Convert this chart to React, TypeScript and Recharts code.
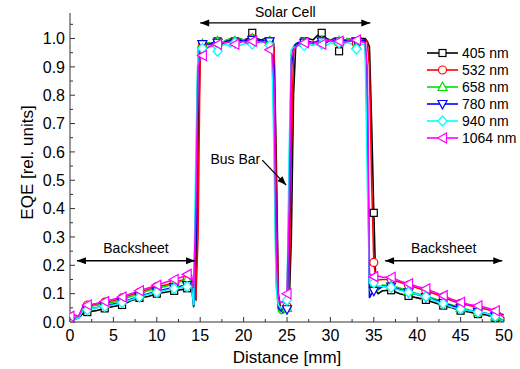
import { LineChart, Line, XAxis, YAxis, ReferenceLine, Legend, Label } from "recharts";

// distance along the scan [mm]
const DIST = [
  0, 0.5, 1, 1.5, 2, 3, 4, 5, 6, 7, 8, 9, 10, 11, 12, 13, 13.5, 14,
  14.25, 14.5, 14.75, 15, 15.25, 15.5,
  16, 16.5, 17, 17.5, 18, 18.5, 19, 19.5, 20, 20.5, 21, 21.5, 22, 22.5, 23,
  23.25, 23.5, 23.75, 24, 24.25, 24.5, 24.75, 25, 25.25, 25.5, 25.75, 26, 26.25, 26.5,
  27, 27.5, 28, 28.5, 29, 29.5, 30, 30.5, 31, 31.5, 32, 32.5, 33, 33.5, 34,
  34.25, 34.5, 34.75, 35, 35.25, 35.5,
  36, 37, 38, 39, 40, 41, 42, 43, 44, 45, 46, 47, 48, 49, 50,
];

const EQE_405 = [
  0.0, 0.01, 0.015, 0.03, 0.035, 0.04, 0.048, 0.055, 0.06, 0.075, 0.085, 0.09, 0.1, 0.105, 0.11, 0.115, 0.119, 0.115,
  0.09, 0.08, 0.6, 0.97, 0.98, 0.98,
  0.98, 0.985, 0.99, 0.985, 0.99, 0.995, 0.99, 1.0, 0.995, 1.0, 1.02, 1.0, 0.995, 1.0, 0.99,
  0.99, 0.98, 0.6, 0.1, 0.05, 0.04, 0.04, 0.05, 0.06, 0.3, 0.8, 0.97, 0.98, 0.985,
  0.99, 1.0, 0.995, 1.01, 1.02, 1.0, 0.995, 1.0, 0.955, 0.99, 1.0, 0.995, 0.99, 1.0, 1.0,
  0.99, 0.97, 0.7, 0.385, 0.11, 0.1,
  0.11, 0.112, 0.1, 0.092, 0.085, 0.078, 0.068, 0.058, 0.05, 0.04, 0.035, 0.028, 0.025, 0.015, 0.0,
];
const EQE_532 = [
  0.01, 0.015, 0.02, 0.055, 0.06, 0.062, 0.07, 0.075, 0.085, 0.095, 0.105, 0.115, 0.125, 0.13, 0.14, 0.148, 0.15, 0.145,
  0.12, 0.08, 0.3, 0.96, 0.975, 0.98,
  0.975, 0.98, 0.985, 0.98, 0.99, 0.985, 0.99, 0.99, 0.995, 0.99, 1.0, 0.995, 0.99, 0.995, 0.985,
  0.985, 0.975, 0.5, 0.08, 0.05, 0.045, 0.045, 0.055, 0.1, 0.6, 0.95, 0.975, 0.98, 0.985,
  0.98, 0.985, 0.98, 0.99, 0.985, 0.99, 0.995, 0.99, 0.985, 0.99, 0.995, 0.99, 0.985, 0.995, 0.995,
  0.99, 0.9, 0.5, 0.21, 0.15, 0.148,
  0.15, 0.15, 0.14, 0.13, 0.12, 0.11, 0.1, 0.088, 0.075, 0.066, 0.058, 0.05, 0.045, 0.035, 0.025,
];
const EQE_658 = [
  0.01, 0.015, 0.02, 0.05, 0.055, 0.058, 0.065, 0.07, 0.08, 0.09, 0.1, 0.11, 0.12, 0.125, 0.135, 0.145, 0.15, 0.13,
  0.05, 0.45, 0.97, 0.98, 0.98, 0.985,
  0.985, 0.98, 0.99, 0.985, 0.995, 1.0, 0.99, 1.0, 0.995, 0.99, 1.0, 0.995, 0.99, 0.995, 0.99,
  0.98, 0.7, 0.15, 0.04, 0.03, 0.03, 0.035, 0.05, 0.5, 0.95, 0.97, 0.98, 0.985, 0.99,
  0.985, 0.99, 0.98, 0.985, 0.99, 0.995, 0.99, 0.995, 0.99, 0.985, 1.0, 0.99, 0.975, 0.99, 0.99,
  0.7, 0.13, 0.12, 0.125, 0.12, 0.118,
  0.13, 0.128, 0.12, 0.11, 0.1, 0.092, 0.082, 0.07, 0.06, 0.05, 0.042, 0.035, 0.03, 0.02, 0.005,
];
const EQE_780 = [
  0.0, 0.01, 0.015, 0.04, 0.045, 0.05, 0.057, 0.063, 0.07, 0.08, 0.09, 0.1, 0.108, 0.115, 0.122, 0.128, 0.13, 0.128,
  0.055, 0.3, 0.95, 0.975, 0.98, 0.98,
  0.98, 0.985, 0.985, 0.98, 0.99, 0.99, 0.985, 0.995, 0.99, 0.995, 0.995, 0.99, 0.995, 0.99, 0.99,
  0.985, 0.9, 0.3, 0.05, 0.04, 0.035, 0.04, 0.045, 0.3, 0.9, 0.97, 0.98, 0.985, 0.985,
  0.985, 0.99, 0.985, 0.99, 0.99, 0.985, 0.995, 0.99, 0.99, 0.995, 0.99, 0.995, 0.99, 0.99, 0.995,
  0.8, 0.085, 0.1, 0.11, 0.115, 0.115,
  0.125, 0.125, 0.115, 0.105, 0.097, 0.088, 0.078, 0.067, 0.057, 0.048, 0.04, 0.035, 0.03, 0.02, 0.0,
];
const EQE_940 = [
  0.005, 0.01, 0.015, 0.04, 0.043, 0.05, 0.055, 0.06, 0.068, 0.078, 0.088, 0.097, 0.105, 0.112, 0.118, 0.123, 0.125, 0.12,
  0.06, 0.6, 0.96, 0.97, 0.965, 0.975,
  0.975, 0.97, 0.955, 0.975, 0.98, 0.97, 0.985, 0.975, 0.98, 0.985, 0.98, 0.99, 0.985, 0.99, 0.975,
  0.97, 0.6, 0.12, 0.06, 0.05, 0.05, 0.06, 0.077, 0.6, 0.96, 0.97, 0.97, 0.975, 0.98,
  0.975, 0.98, 0.975, 0.985, 0.98, 0.975, 0.985, 0.98, 0.985, 0.98, 0.985, 0.98, 0.963, 0.98, 0.98,
  0.5, 0.14, 0.135, 0.138, 0.13, 0.128,
  0.125, 0.122, 0.112, 0.105, 0.098, 0.09, 0.075, 0.065, 0.052, 0.046, 0.04, 0.035, 0.03, 0.02, 0.0,
];
const EQE_1064 = [
  0.02, 0.025, 0.02, 0.055, 0.06, 0.065, 0.072, 0.08, 0.088, 0.1, 0.11, 0.12, 0.13, 0.14, 0.15, 0.16, 0.168, 0.165,
  0.12, 0.4, 0.9, 0.93, 0.94, 0.96,
  0.97, 0.975, 0.98, 0.985, 0.985, 0.99, 0.98, 0.985, 0.99, 0.98, 0.99, 0.985, 0.99, 0.985, 0.96,
  0.96, 0.85, 0.25, 0.08, 0.07, 0.07, 0.08, 0.1, 0.4, 0.93, 0.96, 0.97, 0.975, 0.98,
  0.985, 0.98, 0.99, 0.985, 0.98, 0.99, 0.995, 0.985, 0.99, 0.985, 0.99, 1.0, 0.995, 0.99, 0.985,
  0.9, 0.17, 0.165, 0.16, 0.16, 0.162,
  0.158, 0.158, 0.145, 0.135, 0.125, 0.117, 0.105, 0.093, 0.08, 0.07, 0.062, 0.057, 0.05, 0.04, 0.015,
];

// positions where symbols are drawn
const MARKER_AT = [0, 2, 4, 6, 8, 10, 12, 13.5, 15.25, 17, 19, 21, 23, 25, 27, 29, 31, 33, 35, 37, 39, 41, 43, 45, 47, 49];

const X_TICKS = [0, 2.5, 5, 7.5, 10, 12.5, 15, 17.5, 20, 22.5, 25, 27.5, 30, 32.5, 35, 37.5, 40, 42.5, 45, 47.5, 50];
const Y_TICKS = [0, 0.05, 0.1, 0.15, 0.2, 0.25, 0.3, 0.35, 0.4, 0.45, 0.5, 0.55, 0.6, 0.65, 0.7, 0.75, 0.8, 0.85, 0.9, 0.95, 1.0, 1.05];

const SERIES = [
  { key: "w405", name: "405 nm", color: "#000000", shape: "square", values: EQE_405 },
  { key: "w532", name: "532 nm", color: "#ff0000", shape: "circle", values: EQE_532 },
  { key: "w658", name: "658 nm", color: "#00e000", shape: "up", values: EQE_658 },
  { key: "w780", name: "780 nm", color: "#0000ff", shape: "down", values: EQE_780 },
  { key: "w940", name: "940 nm", color: "#00ffff", shape: "diamond", values: EQE_940 },
  { key: "w1064", name: "1064 nm", color: "#ff00ff", shape: "left", values: EQE_1064 },
];

const rows = DIST.map((d, i) => {
  const r: Record<string, number> = { d };
  SERIES.forEach((s) => (r[s.key] = s.values[i]));
  return r;
});

const AXIS = "#333";
const FONT = '"Liberation Sans", Arial, sans-serif';

function Marker({ shape, color, cx, cy }: any) {
  const p = { fill: "#fff", stroke: color, strokeWidth: 1.2 };
  switch (shape) {
    case "square":
      return <rect x={cx - 3.5} y={cy - 3.5} width={7} height={7} {...p} />;
    case "circle":
      return <circle cx={cx} cy={cy} r={4} {...p} />;
    case "up":
      return <polygon points={`${cx},${cy - 5} ${cx + 4.5},${cy + 3.5} ${cx - 4.5},${cy + 3.5}`} {...p} />;
    case "down":
      return <polygon points={`${cx},${cy + 5} ${cx + 4.5},${cy - 3.5} ${cx - 4.5},${cy - 3.5}`} {...p} />;
    case "diamond":
      return <polygon points={`${cx},${cy - 5} ${cx + 4.5},${cy} ${cx},${cy + 5} ${cx - 4.5},${cy}`} {...p} />;
    default:
      return <polygon points={`${cx - 5},${cy} ${cx + 4},${cy - 5} ${cx + 4},${cy + 5}`} {...p} />;
  }
}

const makeDot = (shape: string, color: string) => (props: any) => {
  const { cx, cy, payload, index } = props;
  if (cx == null || cy == null || !MARKER_AT.includes(payload.d)) return <g key={index} />;
  return (
    <g key={index}>
      <Marker shape={shape} color={color} cx={cx} cy={cy} />
    </g>
  );
};

const XTick = ({ x, y, payload }: any) => {
  const major = payload.value % 5 === 0;
  return (
    <g>
      <line x1={x} x2={x} y1={y} y2={y - (major ? 5 : 3)} stroke={AXIS} />
      {major && (
        <text x={x} y={y + 19} textAnchor="middle" fontSize={16} fill="#000">
          {payload.value}
        </text>
      )}
    </g>
  );
};

const YTick = ({ x, y, payload }: any) => {
  const major = Math.round(payload.value * 100) % 10 === 0;
  return (
    <g>
      <line x1={x} x2={x + (major ? 5 : 3)} y1={y} y2={y} stroke={AXIS} />
      {major && (
        <text x={x - 5} y={y + 5.7} textAnchor="end" fontSize={16} fill="#000">
          {payload.value.toFixed(1)}
        </text>
      )}
    </g>
  );
};

const head = (x: number, y: number, ang: number) => {
  const L = 9, W = 3.5;
  const bx = x - L * Math.cos(ang), by = y - L * Math.sin(ang);
  const px = -Math.sin(ang) * W, py = Math.cos(ang) * W;
  return <polygon points={`${x},${y} ${bx + px},${by + py} ${bx - px},${by - py}`} fill="#000" />;
};

const spanArrow = (text: string, gap: number) => (p: any) => {
  const { x1, y1, x2, y2 } = p;
  return (
    <g>
      <line x1={x1} y1={y1} x2={x2} y2={y2} stroke="#000" strokeWidth={1.3} />
      {head(x1, y1, Math.PI)}
      {head(x2, y2, 0)}
      <text x={(x1 + x2) / 2} y={y1 - gap} textAnchor="middle" fontSize={14} fill="#000">
        {text}
      </text>
    </g>
  );
};

const pointerArrow = (text: string) => (p: any) => {
  const { x1, y1, x2, y2 } = p;
  return (
    <g>
      <line x1={x1} y1={y1} x2={x2} y2={y2} stroke="#000" strokeWidth={1.3} />
      {head(x2, y2, Math.atan2(y2 - y1, x2 - x1))}
      <text x={x1 - 2} y={y1 + 4} textAnchor="end" fontSize={14} fill="#000">
        {text}
      </text>
    </g>
  );
};

const LegendBox = () => (
  <svg width={95} height={110} style={{ fontFamily: FONT }}>
    {SERIES.map((s, i) => {
      const y = 9 + i * 17;
      return (
        <g key={s.key}>
          <line x1={2} x2={33} y1={y} y2={y} stroke={s.color} strokeWidth={1.6} />
          <Marker shape={s.shape} color={s.color} cx={17.5} cy={y} />
          <text x={37} y={y + 5} fontSize={14} fill="#000">
            {s.name}
          </text>
        </g>
      );
    })}
  </svg>
);

const YTitle = ({ viewBox }: any) => {
  const cx = viewBox.x + 33;
  const cy = viewBox.y + viewBox.height / 2 - 5;
  return (
    <text x={cx} y={cy} transform={`rotate(-90 ${cx} ${cy})`} textAnchor="middle" fontSize={17} fill="#000">
      EQE [rel. units]
    </text>
  );
};

export default function App() {
  return (
    <div style={{ position: "absolute", left: 0, top: 0, background: "#fff", fontFamily: FONT }}>
      <LineChart width={520} height={369} data={rows} margin={{ top: 13, right: 16, bottom: 0, left: 0 }}>
        <XAxis
          dataKey="d"
          type="number"
          domain={[0, 50]}
          ticks={X_TICKS}
          interval={0}
          tickSize={0}
          tickMargin={0}
          tickLine={false}
          tick={XTick}
          height={47}
          stroke={AXIS}
          allowDataOverflow
        >
          <Label value="Distance [mm]" position="insideBottom" offset={6} fontSize={17} fill="#000" />
        </XAxis>
        <YAxis
          type="number"
          domain={[0, 1.09]}
          ticks={Y_TICKS}
          interval={0}
          tickSize={0}
          tickMargin={0}
          tickLine={false}
          tick={YTick}
          width={70}
          stroke={AXIS}
          allowDataOverflow
        >
          <Label content={YTitle} />
        </YAxis>
        {SERIES.map((s) => (
          <Line
            key={s.key}
            type="linear"
            dataKey={s.key}
            name={s.name}
            stroke={s.color}
            strokeWidth={1.6}
            dot={makeDot(s.shape, s.color)}
            activeDot={false}
            isAnimationActive={false}
          />
        ))}
        <ReferenceLine segment={[{ x: 15, y: 1.055 }, { x: 34.6, y: 1.055 }]} shape={spanArrow("Solar Cell", 6)} />
        <ReferenceLine segment={[{ x: 0.8, y: 0.216 }, { x: 14.4, y: 0.216 }]} shape={spanArrow("Backsheet", 8)} />
        <ReferenceLine segment={[{ x: 36.3, y: 0.216 }, { x: 49.8, y: 0.216 }]} shape={spanArrow("Backsheet", 8)} />
        <ReferenceLine segment={[{ x: 22.15, y: 0.571 }, { x: 24.9, y: 0.483 }]} shape={pointerArrow("Bus Bar")} />
        <Legend
          layout="horizontal"
          verticalAlign="middle"
          align="center"
          wrapperStyle={{ left: 425, top: 44, width: 95, height: 110 }}
          content={LegendBox}
        />
      </LineChart>
    </div>
  );
}
